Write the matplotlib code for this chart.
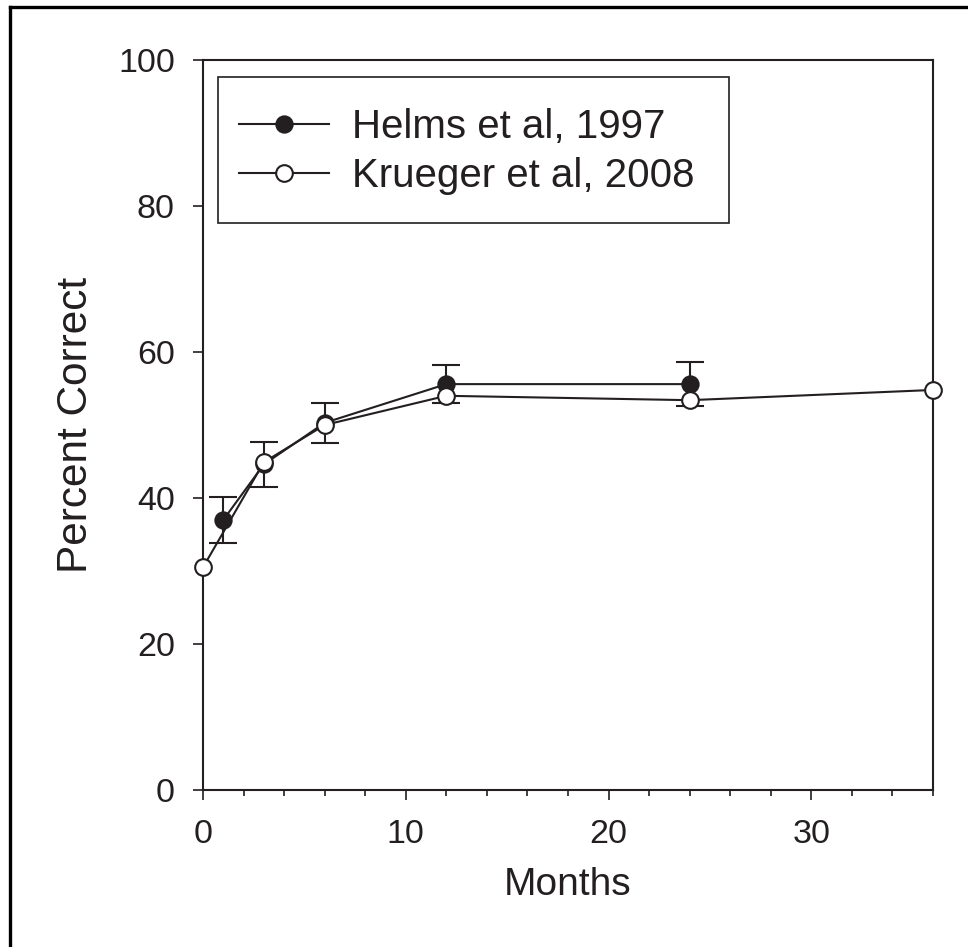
import numpy as np
import matplotlib
matplotlib.use("Agg")
import matplotlib.pyplot as plt
from matplotlib.lines import Line2D
from matplotlib.patches import Rectangle

plt.rcParams["font.family"] = ["Liberation Sans", "DejaVu Sans"]

# -- data --
helms_months = [1, 3, 6, 12, 24]
helms_pct    = [37.0, 44.6, 50.3, 55.6, 55.6]
helms_err    = [3.1, 3.1, 2.7, 2.6, 3.0]

krueger_months = [0, 3, 6, 12, 24, 36]
krueger_pct    = [30.5, 44.9, 50.0, 54.0, 53.4, 54.8]

x_major = [0, 10, 20, 30]
y_major = [0, 20, 40, 60, 80, 100]

ink = "#231f20"
W, H = 968, 947

fig = plt.figure(figsize=(W / 100, H / 100), dpi=100)
ax = fig.add_axes([203 / W, 1 - 790 / H, (933 - 203) / W, (790 - 60) / H])

# -- series --
ax.errorbar(helms_months, helms_pct, yerr=helms_err, fmt="none",
            ecolor=ink, elinewidth=1.5, capsize=10, capthick=1.5, zorder=2)
ax.plot(helms_months, helms_pct, color=ink, lw=1.5, marker="o", ms=12,
        mfc=ink, mec=ink, mew=1.2, label="Helms et al, 1997", zorder=3)
ax.plot(krueger_months, krueger_pct, color=ink, lw=1.5, marker="o", ms=12,
        mfc="white", mec=ink, mew=1.5, label="Krueger et al, 2008", zorder=4,
        clip_on=False)

# -- axes --
ax.set_xlim(0, 36)
ax.set_ylim(0, 100)
ax.set_xticks(x_major)
ax.set_xticks(np.arange(0, 37, 2), minor=True)
ax.set_yticks(y_major)
ax.tick_params(axis="both", which="major", direction="out", length=7.2,
               width=1.2, color=ink, labelsize=24.5, labelcolor=ink)
ax.tick_params(axis="x", which="major", pad=14)
ax.tick_params(axis="y", which="major", pad=13)
ax.tick_params(axis="x", which="minor", direction="out", length=4.5,
               width=1.2, color=ink)
for s in ax.spines.values():
    s.set_linewidth(1.5)
    s.set_color(ink)

ax.set_xlabel("Months", fontsize=28, color=ink, labelpad=12)
ax.set_ylabel("Percent Correct", fontsize=30.5, color=ink, labelpad=16)

# legend entries placed without frame, box drawn separately
leg = ax.legend(loc="upper left", bbox_to_anchor=(239 / W, 1 - 108 / H),
                bbox_transform=fig.transFigure, borderaxespad=0, borderpad=0,
                fontsize=29, frameon=False, handlelength=2.23,
                handletextpad=0.57, labelspacing=0.28)
for t in leg.get_texts():
    t.set_color(ink)
fig.add_artist(Rectangle((218 / W, 1 - 223 / H), (729 - 218) / W, (223 - 77) / H,
                         transform=fig.transFigure, fill=False, ec=ink, lw=1.2))

# -- outer border (left and top edges visible) --
fig.add_artist(Line2D([9.5 / W, 9.5 / W], [0, 1 - 7 / H], transform=fig.transFigure,
                      color="black", lw=2.4, solid_capstyle="projecting"))
fig.add_artist(Line2D([9.5 / W, 1], [1 - 7 / H, 1 - 7 / H], transform=fig.transFigure,
                      color="black", lw=2.4, solid_capstyle="projecting"))

fig.savefig("out.png", dpi=100)
